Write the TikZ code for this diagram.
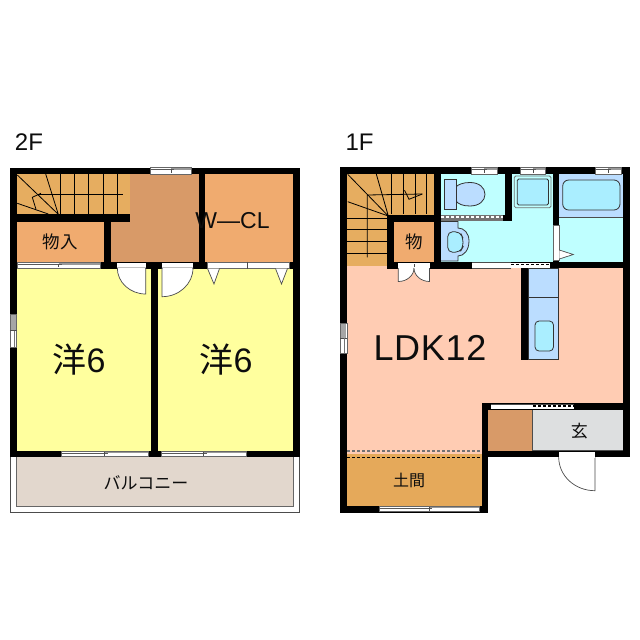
\documentclass[tikz,border=0pt]{standalone}
\usepackage{fontspec}
\setmainfont{Liberation Sans}
\newfontfamily\cjk{Noto Sans CJK JP}
\tikzset{
  room/.style={draw=black!65,line width=.5pt},
  wall/.style={fill=black,draw=none},
  thin line/.style={draw=black,line width=.8pt},
  fixture/.style={draw=black!80,line width=.8pt},
  doorleaf/.style={fill=white,draw=black!70,line width=.7pt},
  label/.style={inner sep=0pt,text=black!95},
}
\definecolor{stair}{HTML}{E6AD60}
\definecolor{hall}{HTML}{D89A68}
\definecolor{closet}{HTML}{F0AB6F}
\definecolor{yel}{HTML}{FFFF9E}
\definecolor{ldk}{HTML}{FFCCB3}
\definecolor{wet}{HTML}{BFFFFF}
\definecolor{fixblue}{HTML}{BBDDFF}
\definecolor{fixcyan}{HTML}{AAEEFF}
\definecolor{genkan}{HTML}{DDDFE0}
\definecolor{doma}{HTML}{E5A95A}
\definecolor{balc}{HTML}{E2D7CD}
% horizontal window: x1,x2,y1,y2
\newcommand{\hwin}[4]{%
  \fill[white] (#1,#3) rectangle (#2,#4);
  \pgfmathsetmacro{\wm}{(#1+#2)/2}
  \fill[black!40] (\wm,#3) rectangle (#2,#3+2);
  \draw[black!60,line width=.5pt] (#1,#3) rectangle (#2,#4);
  \draw[black!65,line width=.7pt] (#1,#3+2) -- (\wm+3,#3+2);
  \draw[black!70,line width=.6pt] (\wm,#3+1) -- (\wm,#4-1);
}
% vertical window
\newcommand{\vwin}[4]{%
  \fill[white] (#1,#3) rectangle (#2,#4);
  \pgfmathsetmacro{\wm}{(#3+#4)/2}
  \fill[black!35] (#1+1,#3) rectangle (#2-1,\wm);
  \draw[black!60,line width=.5pt] (#1,#3) rectangle (#2,#4);
  \draw[black!70,line width=.6pt] (#1,\wm) -- (#2,\wm);
  \draw[black!55,line width=.5pt] (#1+4,\wm) -- (#1+4,#4);
}
\begin{document}
\begin{tikzpicture}[x=1pt,y=-1pt]
\useasboundingbox (0,0) rectangle (640,640);
\fill[white] (0,0) rectangle (640,640);

% ---------- 2F ----------
% balcony
\draw[black!70,line width=.8pt,fill=white] (10,450) -- (10,512) -- (299.5,512) -- (299.5,450);
\fill[balc] (16.5,457) rectangle (293.5,506);
\draw[black!60,line width=.9pt] (16.5,457) -- (16.5,506) -- (293.5,506) -- (293.5,457);
% rooms
\fill[stair] (17,174) rectangle (130,214);
\fill[hall] (130,174) rectangle (199,262);
\fill[hall] (111,214) rectangle (130,262);
\fill[closet] (17,221.5) rectangle (104,262);
\fill[closet] (205,174) rectangle (293,262);
\fill[yel] (17,268) rectangle (151,451);
\fill[yel] (158,268) rectangle (293,451);
% walls
\fill[wall] (9.5,167.5) rectangle (300,174);
\fill[wall] (9.5,167.5) rectangle (16.8,457);
\fill[wall] (293,167.5) rectangle (300,457);
\fill[wall] (17,214) rectangle (130,221.5);
\fill[wall] (104,214) rectangle (111,268);
\fill[wall] (199,174) rectangle (205.3,268);
\fill[wall] (9.5,262) rectangle (300,268.5);
\fill[wall] (151,262) rectangle (158.3,457);
\fill[wall] (9.5,451) rectangle (300,457);
% windows and sliding doors 2F
\hwin{150.7}{191}{167.7}{174}
\hwin{61}{148}{451}{456.5}
\hwin{161}{246}{451}{456.5}
\vwin{9.8}{16.5}{314}{347}
\hwin{17.5}{100}{262.5}{268}
\fill[white] (207,262) rectangle (289,268);
\draw[black!60,line width=.5pt] (207,262) rectangle (289,268);
\draw[black!70,line width=.6pt] (247.5,261.5) -- (247.5,269);
\fill[white] (117.3,262.5) rectangle (145.7,268.3);
\fill[white] (162,262.5) rectangle (193,268.3);
% doors 2F
\path[doorleaf] (145.7,268) -- (145.7,294) .. controls (130,294) and (117.3,282.3) .. (117.3,268) -- cycle;
\path[doorleaf] (162,268) -- (162,296.7) .. controls (179,296.7) and (193,284) .. (193,268) -- cycle;
\draw[white,line width=1pt] (118,268) -- (145,268);
\draw[white,line width=1pt] (163,268) -- (192,268);
% folding door triangles
\path[doorleaf] (207.5,268.5) -- (214,284) -- (219.5,268.5);
\path[doorleaf] (275.5,268.5) -- (281.5,284) -- (287.5,268.5);
% stairs 2F
\draw[thin line] (60,174) -- (60,214) (74.7,174) -- (74.7,214) (88.7,174) -- (88.7,214) (103.3,174) -- (103.3,214) (117.3,174) -- (117.3,214);
\draw[thin line] (38,194.7) -- (123,194.7);
\draw[thin line] (17.3,175) -- (58.3,214.3) (45.7,174) -- (58.3,214.3) (17.3,203.3) -- (48.3,214);
\draw[thin line] (41,193.3) -- (32.3,197.3) -- (36,209.3);
% labels 2F
\node[label,font=\fontsize{24}{24}\selectfont] (f2) at (29,142) {2F};
\node[label,font=\cjk\fontsize{17.5}{17.5}\selectfont] (mono2) at (60,241.7) {物入};
\node[label,font=\fontsize{23}{23}\selectfont] (wcl) at (232.5,221) {W—CL};
\node[label] (yo1) at (79,360) {\cjk\fontsize{34}{34}\selectfont 洋\fontspec{Liberation Sans}\fontsize{34}{34}\selectfont 6};
\node[label] (yo2) at (226,360) {\cjk\fontsize{34}{34}\selectfont 洋\fontspec{Liberation Sans}\fontsize{34}{34}\selectfont 6};
\node[label,font=\cjk\fontsize{17}{17}\selectfont] (balcony) at (146,482.7) {バルコニー};

% ---------- 1F ----------
\fill[stair] (347.3,174) rectangle (434.3,215);
\fill[stair] (347.3,215) rectangle (387.3,265.5);
\fill[closet] (394.3,221.7) rectangle (434.3,262);
\fill[wet] (441,174) rectangle (505.3,215);
\fill[wet] (441,221) rectangle (552.7,261.5);
\fill[wet] (512.3,174) rectangle (552.7,261.5);
\fill[wet] (559.3,174) rectangle (623.3,261.5);
\fill[fixblue] (559.3,174) rectangle (623.3,217.7);
\draw[black!70,line width=.7pt] (559.3,217.7) -- (623.3,217.7);
\fill[ldk] (347.3,265.5) rectangle (623.3,403.3);
\fill[ldk] (347.3,400) rectangle (481.7,454.3);
\fill[doma] (347.3,454.3) rectangle (481.7,505.7);
\fill[hall] (488.3,410) rectangle (532.7,450.7);
\fill[genkan] (532.7,410) rectangle (623.3,450.7);
\draw[black!70,line width=.7pt] (532.7,410) -- (532.7,450.7) -- (623.3,450.7);
% walls
\fill[wall] (339.7,167.3) rectangle (630,174.3);
\fill[wall] (339.7,167.3) rectangle (347.3,512.7);
\fill[wall] (623.3,167.3) rectangle (630,457.3);
\fill[wall] (387.3,215) rectangle (441,221.7);
\fill[wall] (387.3,215) rectangle (394.3,268.5);
\fill[wall] (434.3,174) rectangle (441,268.5);
\fill[wall] (387.3,262) rectangle (472.3,268.5);
\fill[wall] (505.3,174) rectangle (512.3,221);
\fill[wall] (441,214.7) rectangle (512.3,221);
\fill[wall] (552.7,174) rectangle (559.3,268.3);
\fill[wall] (511,261.7) rectangle (630,268.3);
\fill[wall] (520.7,268) rectangle (528.3,360);
\fill[wall] (339.7,505.7) rectangle (488.3,512.7);
\fill[wall] (481.7,403.3) rectangle (488.3,512.7);
\fill[wall] (481.7,403.3) rectangle (630,410);
\fill[wall] (481.7,450.7) rectangle (630,457.3);
% windows 1F
\hwin{471}{497}{167.7}{174}
\hwin{520.7}{545}{167.7}{174}
\hwin{595}{621}{167.7}{174}
\vwin{340}{347}{323}{353}
\hwin{379}{479}{506}{511.5}
% toilet strip
\fill[black!55] (441,215) rectangle (503,220.5);
\draw[white,line width=1.6pt,dash pattern=on 3pt off 2pt] (441,216.8) -- (503,216.8);
% sliding door LDK / wash
\fill[white] (472.3,262.5) rectangle (550,268);
\draw[black!70,line width=.6pt] (472.3,262.5) -- (511,262.5) (472.3,268) -- (511,268);
\draw[black,line width=1.4pt,dash pattern=on 3pt off 2pt] (511,264.5) -- (550,264.5);
% bath door
\fill[white] (553,225) rectangle (559,260);
\draw[black!60,line width=.5pt] (553,225) rectangle (559,260);
\path[doorleaf] (559.3,250) -- (573.3,254.5) -- (559.3,259);
% genkan upper sliding door
\fill[white] (491,404) rectangle (574,409);
\draw[black!70,line width=.6pt] (491,404) -- (574,404);
\draw[black,line width=1.4pt,dash pattern=on 3pt off 2pt] (533,406) -- (574,406);
% stairs 1F
\draw[thin line] (391,174) -- (391,214) (403,174) -- (403,214) (415,174) -- (415,214) (426,174) -- (426,214);
\draw[thin line] (347.3,218.3) -- (387.3,218.3) (347.3,229.3) -- (387.3,229.3) (347.3,241.3) -- (387.3,241.3) (347.3,253.3) -- (387.3,253.3);
\draw[thin line] (347.7,174.3) -- (388.3,216) (376.3,174) -- (388.3,216) (347.7,201.7) -- (388.3,216);
\draw[thin line] (367.3,257.3) -- (367.3,195) -- (422.3,194);
\draw[thin line] (422.3,194) -- (409,199.3) -- (404.5,190.3);
% mono door 1F
\fill[white] (398.3,262.5) rectangle (429.5,268.5);
\draw[black!70,line width=.8pt] (414,264) -- (414,267);
\path[doorleaf] (398.3,268) -- (398.3,281.5) .. controls (407,281.5) and (414,275.5) .. (414,268);
\path[doorleaf] (429.5,268) -- (429.5,281.5) .. controls (421,281.5) and (414,275.5) .. (414,268);
% toilet
\path[fixture,fill=fixblue] (470,182.5) .. controls (479,182.5) and (485,187.5) .. (485,194.3) .. controls (485,201) and (479,206) .. (470,206) .. controls (463,206) and (458,204) .. (456,201) -- (456,187) .. controls (458,184.5) and (463,182.5) .. (470,182.5) -- cycle;
\path[fixture,fill=fixblue] (444.3,179.7) rectangle (456,209);
% basin
\path[fixture,fill=fixblue] (441,221.5) -- (458,221.5) -- (458,228) .. controls (464,228) and (469,233) .. (469,241) .. controls (469,250) and (464,256) .. (458,256) -- (458,261) -- (441,261);
\path[fixture,fill=fixcyan,rounded corners=5pt] (447.7,231.7) -- (460,231.7) -- (463,238) -- (463,247) -- (460,252.3) -- (447.7,252.3) -- cycle;
% shower tray
\path[fixture,fill=wet,rounded corners=1.5pt,draw=black!55] (514.3,176) rectangle (551,207.7);
\path[fixture,fill=fixcyan,rounded corners=1.5pt] (517.3,179) rectangle (548.5,205);
% tub
\path[fixture,fill=fixcyan,rounded corners=6pt] (562.7,180) rectangle (620,210);
% kitchen
\path[fixture,fill=fixblue] (528.3,268.3) rectangle (558,359);
\draw[fixture] (528.3,297.3) -- (558,297.3);
\path[fixture,fill=fixcyan,rounded corners=4pt] (535,321) rectangle (553.5,351);
% entrance door
\fill[white] (558.7,451.5) rectangle (595,457.5);
\path[doorleaf] (595,457) -- (595,490.7) .. controls (575,490.7) and (558.7,476) .. (558.7,457);
\draw[white,line width=1pt] (559.3,457) -- (594.5,457);
% doma lines
\draw[black!55,line width=1.2pt,dash pattern=on 3pt off 2pt] (347.3,451) -- (481.7,451);
\draw[black,line width=.9pt,dash pattern=on 3pt off 2pt] (347.3,457) -- (481.7,457);
% labels 1F
\node[label,font=\fontsize{24}{24}\selectfont] (f1) at (359.5,142) {1F};
\node[label,font=\cjk\fontsize{17.5}{17.5}\selectfont] (mono1) at (414,241.7) {物};
\node[label,font=\fontsize{36}{36}\selectfont\addfontfeature{LetterSpace=2}] (ldktext) at (430,347.5) {LDK12};
\node[label,font=\cjk\fontsize{16}{16}\selectfont] (domatext) at (409,480.7) {土間};
\node[label,font=\cjk\fontsize{17}{17}\selectfont] (gen) at (579.3,430.7) {玄};
\end{tikzpicture}
\end{document}
